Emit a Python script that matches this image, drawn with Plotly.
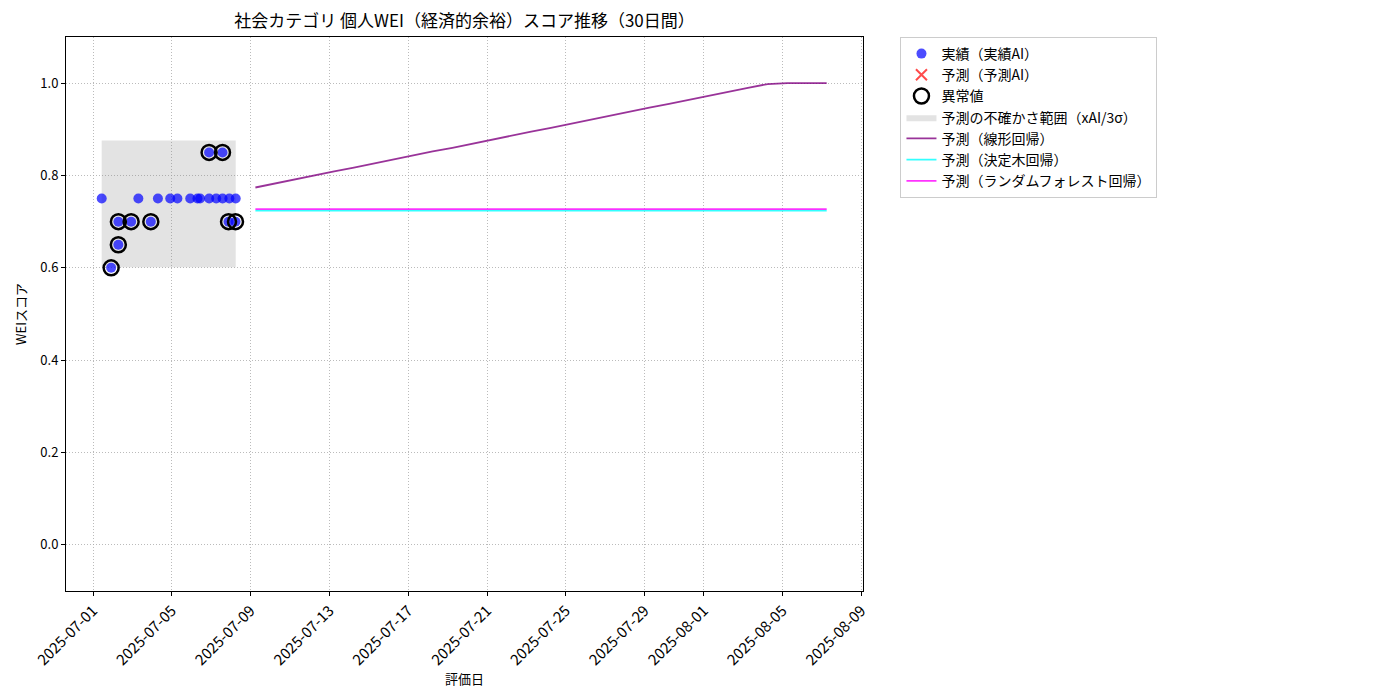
import plotly.graph_objects as go

# actual AI scores
actual_dates = [
    "2025-07-01 10:30", "2025-07-01 22:00", "2025-07-02 06:45", "2025-07-02 06:50",
    "2025-07-02 22:20", "2025-07-03 07:10", "2025-07-03 22:20", "2025-07-04 07:00",
    "2025-07-04 22:00", "2025-07-05 06:45", "2025-07-05 22:20", "2025-07-06 07:10",
    "2025-07-06 10:20", "2025-07-06 21:20", "2025-07-06 21:25", "2025-07-07 06:00",
    "2025-07-07 13:40", "2025-07-07 13:45", "2025-07-07 21:00", "2025-07-07 22:00",
    "2025-07-08 05:30", "2025-07-08 05:45",
]
actual_scores = [
    0.75, 0.60, 0.65, 0.70,
    0.70, 0.75, 0.70, 0.75,
    0.75, 0.75, 0.75, 0.75,
    0.75, 0.85, 0.75, 0.75,
    0.85, 0.75, 0.70, 0.75,
    0.70, 0.75,
]

# anomalies
anomaly_dates = [
    "2025-07-01 22:00", "2025-07-02 06:45", "2025-07-02 06:50", "2025-07-02 22:20",
    "2025-07-03 22:20", "2025-07-06 21:20", "2025-07-07 13:40", "2025-07-07 21:00",
    "2025-07-08 05:30",
]
anomaly_scores = [0.60, 0.65, 0.70, 0.70, 0.70, 0.85, 0.85, 0.70, 0.70]

# uncertainty band (xAI / 3 sigma)
band_dates = ["2025-07-01 10:30", "2025-07-08 05:45"]
band_upper = [0.876, 0.876]
band_lower = [0.601, 0.601]

# 30-day forecasts
forecast_dates = [
    "2025-07-09 05:45", "2025-07-10 05:45", "2025-07-11 05:45", "2025-07-12 05:45",
    "2025-07-13 05:45", "2025-07-14 05:45", "2025-07-15 05:45", "2025-07-16 05:45",
    "2025-07-17 05:45", "2025-07-18 05:45", "2025-07-19 05:45", "2025-07-20 05:45",
    "2025-07-21 05:45", "2025-07-22 05:45", "2025-07-23 05:45", "2025-07-24 05:45",
    "2025-07-25 05:45", "2025-07-26 05:45", "2025-07-27 05:45", "2025-07-28 05:45",
    "2025-07-29 05:45", "2025-07-30 05:45", "2025-07-31 05:45", "2025-08-01 05:45",
    "2025-08-02 05:45", "2025-08-03 05:45", "2025-08-04 05:45", "2025-08-05 05:45",
    "2025-08-06 05:45", "2025-08-07 05:45",
]
linear_pred = [
    0.774, 0.783, 0.791, 0.800, 0.809, 0.817, 0.826, 0.834, 0.843, 0.852,
    0.860, 0.869, 0.878, 0.886, 0.895, 0.903, 0.912, 0.921, 0.929, 0.938,
    0.947, 0.955, 0.964, 0.972, 0.981, 0.990, 0.998, 1.000, 1.000, 1.000,
]
tree_pred = [
    0.724, 0.724, 0.724, 0.724, 0.724, 0.724, 0.724, 0.724, 0.724, 0.724,
    0.724, 0.724, 0.724, 0.724, 0.724, 0.724, 0.724, 0.724, 0.724, 0.724,
    0.724, 0.724, 0.724, 0.724, 0.724, 0.724, 0.724, 0.724, 0.724, 0.724,
]
forest_pred = [
    0.727, 0.727, 0.727, 0.727, 0.727, 0.727, 0.727, 0.727, 0.727, 0.727,
    0.727, 0.727, 0.727, 0.727, 0.727, 0.727, 0.727, 0.727, 0.727, 0.727,
    0.727, 0.727, 0.727, 0.727, 0.727, 0.727, 0.727, 0.727, 0.727, 0.727,
]

tick_dates = [
    "2025-07-01", "2025-07-05", "2025-07-09", "2025-07-13", "2025-07-17", "2025-07-21",
    "2025-07-25", "2025-07-29", "2025-08-01", "2025-08-05", "2025-08-09",
]

FONT = "Noto Sans CJK JP"

fig = go.Figure()

# band first so it sits behind the points
fig.add_trace(go.Scatter(
    x=band_dates, y=band_lower, mode="lines", line=dict(width=0),
    showlegend=False, hoverinfo="skip"))
fig.add_trace(go.Scatter(
    x=band_dates, y=band_upper, mode="lines", line=dict(width=0),
    fill="tonexty", fillcolor="rgba(128,128,128,0.22)",
    name="予測の不確かさ範囲（xAI/3σ）", legendrank=4))

fig.add_trace(go.Scatter(
    x=actual_dates, y=actual_scores, mode="markers",
    marker=dict(color="rgba(0,0,255,0.7)", size=10),
    name="実績（実績AI）", legendrank=1))
fig.add_trace(go.Scatter(
    x=[None], y=[None], mode="markers",
    marker=dict(color="rgba(255,0,0,0.7)", size=11, symbol="x-thin",
                line=dict(width=2, color="rgba(255,0,0,0.7)")),
    name="予測（予測AI）", legendrank=2))
fig.add_trace(go.Scatter(
    x=anomaly_dates, y=anomaly_scores, mode="markers",
    marker=dict(color="black", size=15, symbol="circle-open",
                line=dict(width=2.5, color="black")),
    name="異常値", legendrank=3))

fig.add_trace(go.Scatter(
    x=forecast_dates, y=linear_pred, mode="lines",
    line=dict(color="rgba(128,0,128,0.8)", width=1.8),
    name="予測（線形回帰）", legendrank=5))
fig.add_trace(go.Scatter(
    x=forecast_dates, y=tree_pred, mode="lines",
    line=dict(color="rgba(0,255,255,0.8)", width=1.8),
    name="予測（決定木回帰）", legendrank=6))
fig.add_trace(go.Scatter(
    x=forecast_dates, y=forest_pred, mode="lines",
    line=dict(color="rgba(255,0,255,0.8)", width=1.8),
    name="予測（ランダムフォレスト回帰）", legendrank=7))

axis_common = dict(
    showline=True, mirror=True, linecolor="black", linewidth=1,
    ticks="outside", ticklen=4, tickcolor="black",
    showgrid=True, gridcolor="rgba(170,170,170,0.8)", griddash="1px,2px", gridwidth=1,
    zeroline=False, automargin=False,
)

# page body adds an 8px offset, so margins are trimmed by that much
fig.update_layout(
    width=1400, height=700,
    paper_bgcolor="white", plot_bgcolor="white",
    margin=dict(l=58, r=545, t=29, b=117),
    font=dict(family=FONT, size=13, color="black"),
    title=dict(text="社会カテゴリ 個人WEI（経済的余裕）スコア推移（30日間）",
               x=456.5 / 1400, xanchor="center", y=1 - 13 / 700, yanchor="middle",
               font=dict(size=17, family=FONT, color="black")),
    xaxis=dict(axis_common, type="date",
               range=["2025-06-29 15:00", "2025-08-09 02:00"],
               tickvals=tick_dates, tickformat="%Y-%m-%d", tickangle=-45,
               tickfont=dict(size=15, color="black", family=FONT),
               title=dict(text="評価日", font=dict(size=13), standoff=0)),
    yaxis=dict(axis_common, range=[-0.1, 1.1],
               tickvals=[0.0, 0.2, 0.4, 0.6, 0.8, 1.0], tickformat=".1f",
               tickfont=dict(size=13, color="black", family=FONT),
               title=dict(text="WEIスコア", font=dict(size=13), standoff=10)),
    legend=dict(x=1.047, y=1, xanchor="left", yanchor="top", traceorder="normal",
                bordercolor="#cccccc", borderwidth=1, bgcolor="white",
                font=dict(size=14, family=FONT), tracegroupgap=0),
    hovermode="closest",
)

fig.write_html("out.html")
